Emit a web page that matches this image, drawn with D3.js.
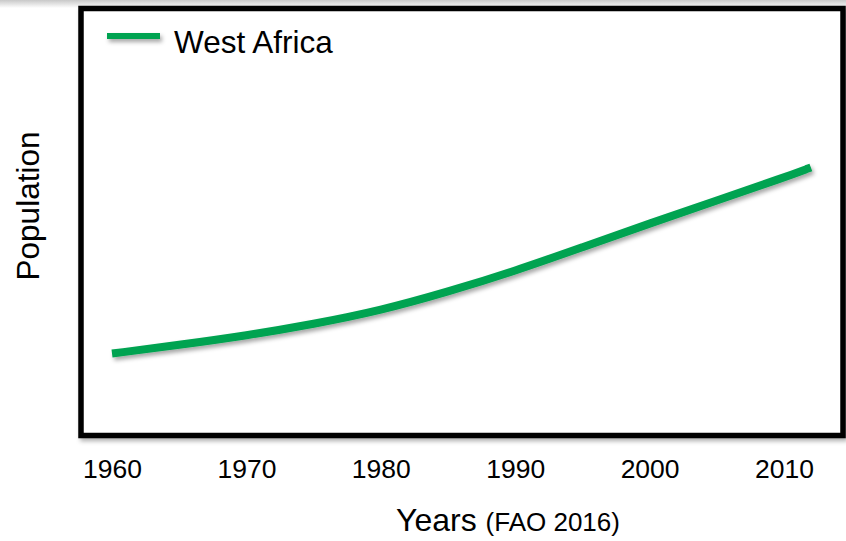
<!DOCTYPE html>
<html>
<head>
<meta charset="utf-8">
<script src="https://cdn.jsdelivr.net/npm/d3@7"></script>
<style>
  html, body { margin: 0; padding: 0; background: #fff; }
  svg { display: block; font-family: "Liberation Sans", Arial, sans-serif; }
</style>
</head>
<body>
<svg id="chart" width="846" height="541"></svg>
<script>
// West Africa population (millions), FAO 2016
const years = [1960, 1965, 1970, 1975, 1980, 1985, 1990, 1995, 2000, 2005, 2010, 2012];
const population = [89, 101, 114, 130, 149, 175, 204, 237, 270, 302, 334, 348];
const tickYears = [1960, 1970, 1980, 1990, 2000, 2010];
const seriesName = "West Africa";

const svg = d3.select("#chart");
const W = 846, H = 541;

const defs = svg.append("defs");
const topFade = defs.append("linearGradient").attr("id", "topFade")
  .attr("x1", 0).attr("y1", 0).attr("x2", 0).attr("y2", 1);
topFade.append("stop").attr("offset", 0).attr("stop-color", "#c8c8c8");
topFade.append("stop").attr("offset", 1).attr("stop-color", "#ffffff");

// soft shadow under green strokes (user-space region so flat lines work too)
const lineShadow = defs.append("filter").attr("id", "lineShadow")
  .attr("filterUnits", "userSpaceOnUse")
  .attr("x", 0).attr("y", 0).attr("width", W).attr("height", H);
lineShadow.append("feDropShadow").attr("dx", 2).attr("dy", 3)
  .attr("stdDeviation", 2).attr("flood-color", "#000").attr("flood-opacity", 0.35);

const boxShadow = defs.append("filter").attr("id", "boxShadow")
  .attr("x", "-5%").attr("y", "-5%").attr("width", "110%").attr("height", "110%");
boxShadow.append("feDropShadow").attr("dx", 2).attr("dy", 3)
  .attr("stdDeviation", 2).attr("flood-color", "#000").attr("flood-opacity", 0.3);

// faint band along the top edge
svg.append("rect").attr("x", 0).attr("y", 0).attr("width", W).attr("height", 8)
  .attr("fill", "url(#topFade)");

// plot frame
const frame = { left: 81, top: 8.5, right: 843, bottom: 435.5 };
svg.append("rect")
  .attr("x", frame.left).attr("y", frame.top)
  .attr("width", frame.right - frame.left).attr("height", frame.bottom - frame.top)
  .attr("fill", "#fff").attr("stroke", "#000").attr("stroke-width", 5.5)
  .attr("filter", "url(#boxShadow)");

// scales
const x = d3.scaleLinear().domain([1960, 2010]).range([112, 784]);
const y = d3.scaleLinear().domain([80, 350]).range([360, 166]);

// population curve
const line = d3.line()
  .x((d, i) => x(years[i]))
  .y(d => y(d))
  .curve(d3.curveBasis);

svg.append("path")
  .datum(population)
  .attr("d", line)
  .attr("fill", "none")
  .attr("stroke", "#00a351")
  .attr("stroke-width", 8)
  .attr("filter", "url(#lineShadow)");

// x axis labels (no axis line or ticks shown)
const xAxis = d3.axisBottom(x).tickValues(tickYears).tickFormat(d3.format("d"))
  .tickSize(0).tickPadding(0);
const gx = svg.append("g").attr("transform", "translate(0,459)").call(xAxis);
gx.select(".domain").remove();
gx.selectAll("text")
  .attr("dy", "0.71em")
  .attr("fill", "#000")
  .style("font-size", "26.5px")
  .style("font-family", "'Liberation Sans', Arial, sans-serif");

// axis titles
const xt = svg.append("text").attr("x", 396).attr("y", 531)
  .attr("fill", "#000");
xt.append("tspan").style("font-size", "32px").text("Years ");
xt.append("tspan").style("font-size", "26px").text("(FAO 2016)");

svg.append("text")
  .attr("transform", "translate(39,206) rotate(-90)")
  .attr("text-anchor", "middle")
  .attr("fill", "#000")
  .style("font-size", "31.5px")
  .text("Population");

// legend
svg.append("line")
  .attr("x1", 107).attr("x2", 160).attr("y1", 36).attr("y2", 36)
  .attr("stroke", "#00a351").attr("stroke-width", 6)
  .attr("filter", "url(#lineShadow)");
svg.append("text").attr("x", 174).attr("y", 53)
  .attr("fill", "#000").style("font-size", "31.5px").text(seriesName);
</script>
</body>
</html>
